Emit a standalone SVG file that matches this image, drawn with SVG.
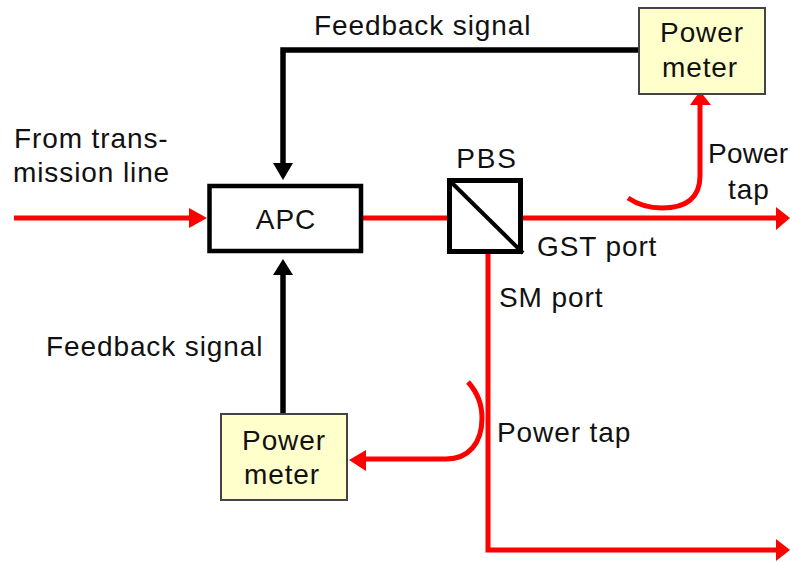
<svg xmlns="http://www.w3.org/2000/svg" width="790" height="562" viewBox="0 0 790 562">
<style>
text{font-family:"Liberation Sans",Arial,sans-serif;font-size:28px;fill:#111;letter-spacing:.9px}
.c{text-anchor:middle}
.r{fill:none;stroke:#ff0000;stroke-width:5}
.k{fill:none;stroke:#000;stroke-width:5.5}
.pm{fill:#ffffcc;stroke:#444;stroke-width:2}
.hr{fill:#ff0000}
.hk{fill:#000}
</style>
<rect width="790" height="562" fill="#fff"/>
<g id="connectors">
<path class="k" d="M640 50H283V164"/><path class="hk" d="M273 163H293L283 180Z"/>
<path class="k" d="M283 414V273"/><path class="hk" d="M273 275H293L283 259Z"/>
<path class="r" d="M14 218H192"/><path class="hr" d="M189 208L207 218L189 228Z"/>
<path class="r" d="M362 218H449"/>
<path class="r" d="M522 218H778"/><path class="hr" d="M776 207L790 218L776 230Z"/>
<path class="r" d="M488 253V550H778"/><path class="hr" d="M776 539L790 550L776 561Z"/>
<path class="r" d="M628 198C640 206 650 208 662 208C686 208 700 198 700 176V104"/><path class="hr" d="M690 105H711L700 91Z"/>
<path class="r" d="M468 382C478 393 482 405 482 418C482 444 468 459 446 459H364"/><path class="hr" d="M366 450V471L349 460Z"/>
</g>
<g id="apc"><rect x="209.500" y="186" width="151.500" height="65" fill="#fff" stroke="#000" stroke-width="4.500"/><text class="c" x="286" y="229">APC</text></g>
<g id="pbs"><rect x="449.500" y="180.500" width="71" height="71" fill="#fff" stroke="#000" stroke-width="5"/><path d="M451 182L523 253" stroke="#000" stroke-width="4" fill="none"/><text class="c" x="487" y="168" style="letter-spacing:1.800px">PBS</text></g>
<g id="power-meter-top"><rect class="pm" x="639" y="8" width="126" height="86"/><text class="c" x="702" y="42">Power</text><text class="c" x="700" y="77">meter</text></g>
<g id="power-meter-bottom"><rect class="pm" x="221" y="414" width="126" height="86"/><text class="c" x="284" y="450">Power</text><text class="c" x="282" y="484">meter</text></g>
<g id="labels">
<text x="314" y="35">Feedback signal</text>
<text x="46" y="356">Feedback signal</text>
<text x="14" y="148">From trans-</text>
<text x="13" y="182">mission line</text>
<text x="708" y="163" style="letter-spacing:.2px">Power</text>
<text x="728" y="199">tap</text>
<text x="537" y="256">GST port</text>
<text x="499" y="307">SM port</text>
<text x="497" y="442">Power tap</text>
</g>
</svg>
